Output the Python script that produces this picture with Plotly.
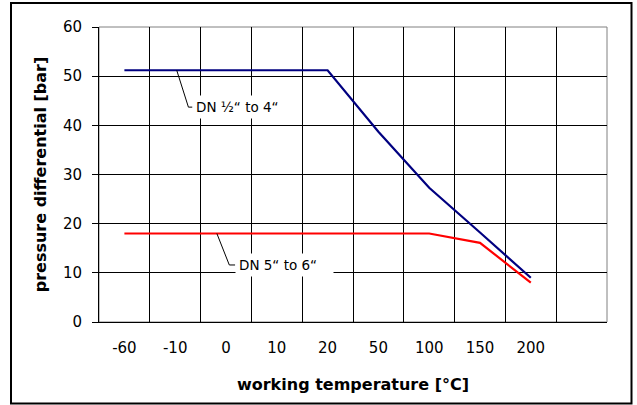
import plotly.graph_objects as go

temps = ["-60", "-10", "0", "10", "20", "50", "100", "150", "200"]
dn_small = [51.2, 51.2, 51.2, 51.2, 51.2, 38.7, 27.3, 18.2, 9.0]
dn_large = [18.0, 18.0, 18.0, 18.0, 18.0, 18.0, 18.0, 16.1, 8.0]
y_ticks = [0, 10, 20, 30, 40, 50, 60]
label_small = "DN ½“ to 4“"
label_large = "DN 5“ to 6“"

FONT = "DejaVu Sans"

fig = go.Figure()
fig.add_trace(go.Scatter(x=temps, y=dn_small, mode="lines",
                         line=dict(color="#000080", width=2.2), showlegend=False))
fig.add_trace(go.Scatter(x=temps, y=dn_large, mode="lines",
                         line=dict(color="#FF0000", width=2.2), showlegend=False))

# leader lines (label callouts)
leaders = [
    [(1.03, 51.2), (1.26, 43.7), (1.34, 43.7)],
    [(1.82, 18.0), (2.065, 11.6), (2.18, 11.6)],
]
for pts in leaders:
    path = "M " + " L ".join(f"{px},{py}" for px, py in pts)
    fig.add_shape(type="path", path=path, xref="x", yref="y",
                  line=dict(color="black", width=1), layer="above")

fig.add_annotation(x=1.34, y=43.7, xref="x", yref="y", text=label_small,
                   showarrow=False, xanchor="left", yanchor="middle",
                   bgcolor="white", borderpad=3,
                   font=dict(family=FONT, size=13.5, color="black"))
fig.add_annotation(x=2.18, y=11.6, xref="x", yref="y", text=label_large + "   ",
                   showarrow=False, xanchor="left", yanchor="middle",
                   bgcolor="white", borderpad=3,
                   font=dict(family=FONT, size=13.5, color="black"))

# plot area grey border (right/top)
fig.add_shape(type="rect", xref="paper", yref="paper", x0=0, y0=0, x1=1, y1=1,
              line=dict(color="#808080", width=1), layer="below")
# outer frame
fig.add_shape(type="rect", xref="paper", yref="paper",
              x0=(11 - 99) / 508, x1=(631.5 - 99) / 508,
              y0=(322 - 403.5) / 295, y1=(322 - 3) / 295,
              line=dict(color="black", width=2))

fig.update_layout(
    width=637, height=405,
    margin=dict(l=99, r=30, t=27, b=83),
    paper_bgcolor="white", plot_bgcolor="white",
    font=dict(family=FONT, color="black"),
    xaxis=dict(
        type="category", categoryorder="array", categoryarray=temps,
        range=[-0.5, 9.5], tickson="boundaries", ticks="",
        showgrid=True, gridcolor="black", gridwidth=1,
        showline=True, linecolor="black", linewidth=1,
        tickfont=dict(family=FONT, size=15, color="black"),
        ticklabelstandoff=12,
        title=dict(text="<b>working temperature [°C]</b>",
                   font=dict(family=FONT, size=16, color="black"), standoff=22),
    ),
    yaxis=dict(
        range=[0, 60], tickmode="array", tickvals=y_ticks,
        showgrid=True, gridcolor="black", gridwidth=1, zeroline=False,
        showline=True, linecolor="black", linewidth=1,
        ticks="outside", ticklen=6, tickcolor="black",
        tickfont=dict(family=FONT, size=15, color="black"),
        ticklabelstandoff=7,
        title=dict(text="<b>pressure differential [bar]</b>",
                   font=dict(family=FONT, size=16, color="black"), standoff=12),
    ),
)

fig.write_html("out.html", config={"displayModeBar": False},
               post_script="document.body.style.margin='0';document.body.style.padding='0';")
